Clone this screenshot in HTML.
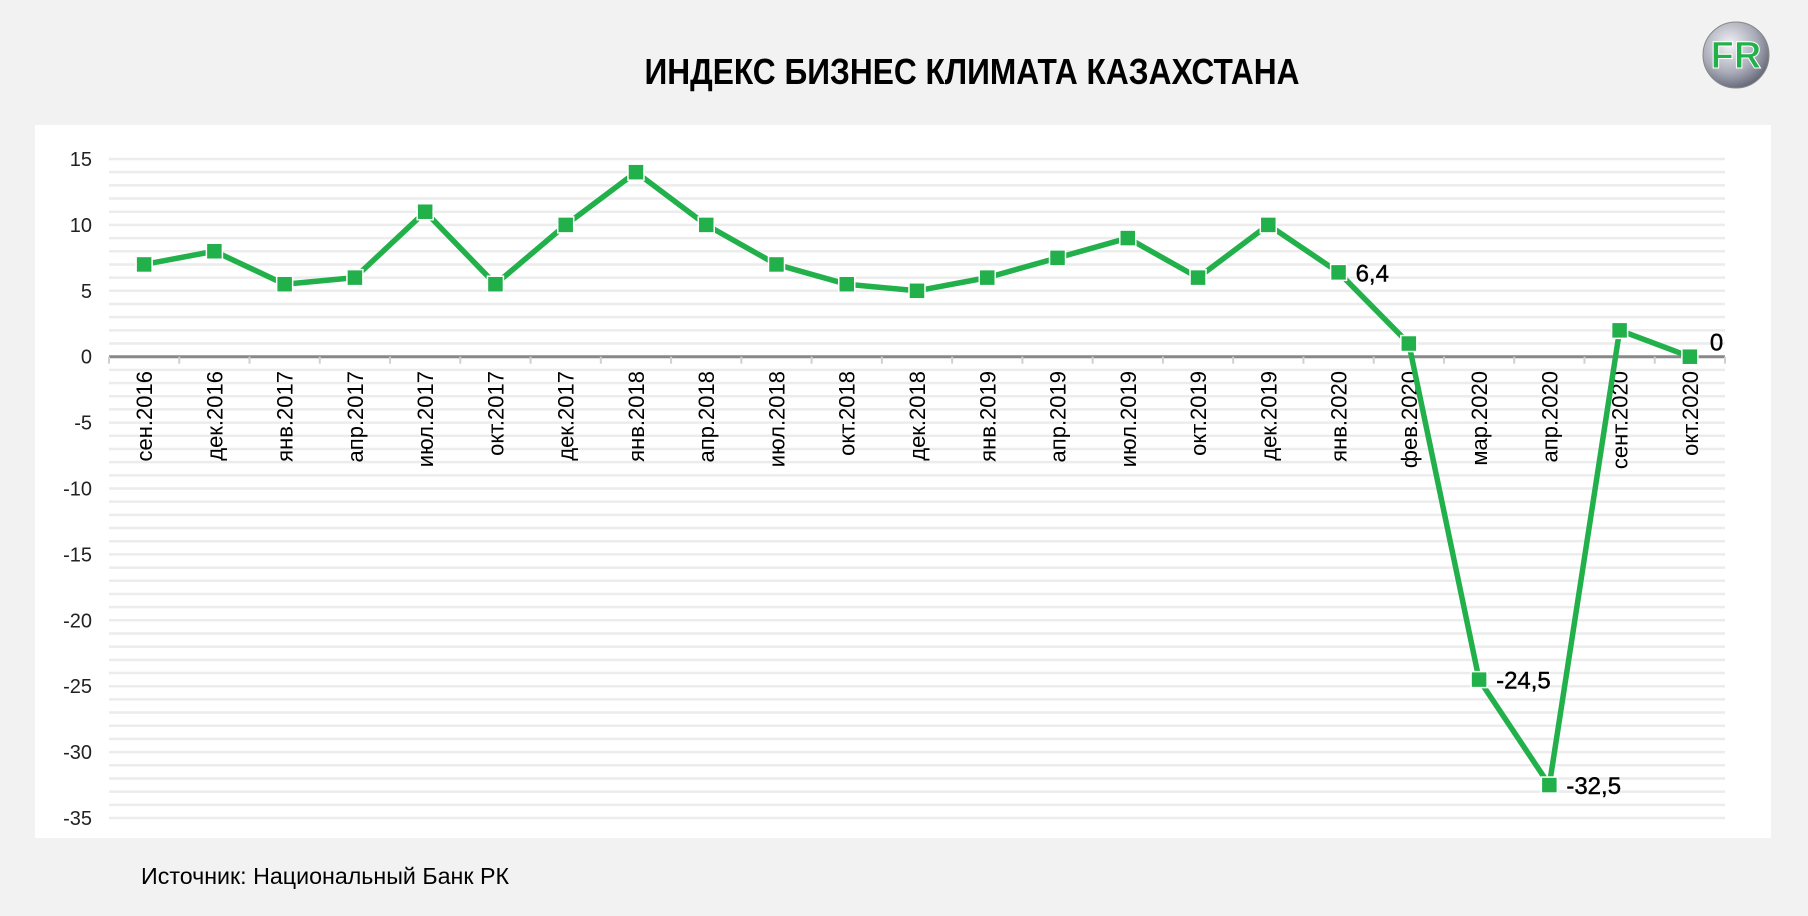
<!DOCTYPE html>
<html><head><meta charset="utf-8"><style>
html,body{margin:0;padding:0;background:#f2f2f2;}
svg{display:block;font-family:"Liberation Sans",sans-serif;}
</style></head><body>
<svg id="chart" width="1808" height="916" viewBox="0 0 1808 916">
  <rect x="0" y="0" width="1808" height="916" fill="#f2f2f2"/>
  <text x="972" y="84" text-anchor="middle" font-size="36" font-weight="bold" textLength="655" lengthAdjust="spacingAndGlyphs" fill="#000">ИНДЕКС БИЗНЕС КЛИМАТА КАЗАХСТАНА</text>
  <g>
    <defs><radialGradient id="lg" cx="0.4" cy="0.35" r="0.7"><stop offset="0" stop-color="#f4f4f8"/><stop offset="0.6" stop-color="#a9abb8"/><stop offset="1" stop-color="#5d6070"/></radialGradient></defs>
    <circle cx="1736" cy="55" r="33" fill="url(#lg)" stroke="#888" stroke-width="1"/>
    <text x="1736" y="68" text-anchor="middle" font-size="38" font-weight="bold" fill="#22b04b" stroke="#fff" stroke-width="1">FR</text>
  </g>
  <rect x="35" y="125" width="1736" height="713" fill="#fff"/>
  <g id="grid"></g><g id="yticks"></g><g id="xaxis"></g><g id="series"></g><g id="labels"></g>
  <text x="141" y="884" font-size="23" textLength="368" lengthAdjust="spacingAndGlyphs" fill="#000">Источник: Национальный Банк РК</text>
</svg>
<script>
const categories = ["сен.2016","дек.2016","янв.2017","апр.2017","июл.2017","окт.2017","дек.2017","янв.2018","апр.2018","июл.2018","окт.2018","дек.2018","янв.2019","апр.2019","июл.2019","окт.2019","дек.2019","янв.2020","фев.2020","мар.2020","апр.2020","сент.2020","окт.2020"];
const values = [7,8,5.5,6,11,5.5,10,14,10,7,5.5,5,6,7.5,9,6,10,6.4,1,-24.5,-32.5,2,0];
const yTicks = [15,10,5,0,-5,-10,-15,-20,-25,-30,-35];
const labeled = {17:"6,4",19:"-24,5",20:"-32,5",22:"0"};

const NS="http://www.w3.org/2000/svg";
const X0=109, X1=1725, Y0=356.7, PX=13.18;
const bw=(X1-X0)/categories.length;
const xs=i=>X0+bw*(i+0.5);
const ys=v=>Y0-v*PX;
function mk(tag,attrs,parent){const e=document.createElementNS(NS,tag);for(const k in attrs)e.setAttribute(k,attrs[k]);parent.appendChild(e);return e;}
const grid=document.getElementById('grid'),yt=document.getElementById('yticks'),xa=document.getElementById('xaxis'),se=document.getElementById('series'),lb=document.getElementById('labels');
for(let v=15;v>=-35;v--){
  const g=mk('line',{x1:X0,x2:X1,y1:ys(v),y2:ys(v),stroke:'#ececec','stroke-width':2.5},grid);
  
  
}
yTicks.forEach(v=>{
  const t=mk('text',{x:92,y:ys(v)+7,'text-anchor':'end','font-size':20,fill:'#222'},yt);
  t.textContent=v;
  
  
});
const ax=mk('line',{x1:X0,x2:X1,y1:Y0,y2:Y0,stroke:'#888','stroke-width':3},xa);


for(let i=0;i<=categories.length;i++){
  const tk=mk('line',{x1:X0+bw*i,x2:X0+bw*i,y1:Y0,y2:Y0+7,stroke:'#d0d0d0','stroke-width':2},xa);
  
  
}
categories.forEach((c,i)=>{
  const t=mk('text',{x:0,y:0,'text-anchor':'end','font-size':22,fill:'#000',transform:`translate(${xs(i)+8},371) rotate(-90)`},xa);
  t.textContent=c;
  
  
});
const pl=mk('polyline',{points:values.map((v,i)=>xs(i)+','+ys(v)).join(' '),fill:'none',stroke:'#22b04b','stroke-width':5.5,'stroke-linejoin':'round'},se);


values.forEach((v,i)=>{
  const m=mk('rect',{x:xs(i)-8,y:ys(v)-8,width:16,height:16,fill:'#22b04b',stroke:'#fff','stroke-width':1.5},se);
  
  
});
Object.keys(labeled).forEach(k=>{
  const i=+k,v=values[i];
  const dy = (i===22)? -6 : 9;
  const t=mk('text',{x:xs(i)+(i===22?20:17),y:ys(v)+dy,'font-size':24,fill:'#000',stroke:'#000','stroke-width':0.4},lb);
  t.textContent=labeled[k];
  
  
});
</script>
</body></html>
